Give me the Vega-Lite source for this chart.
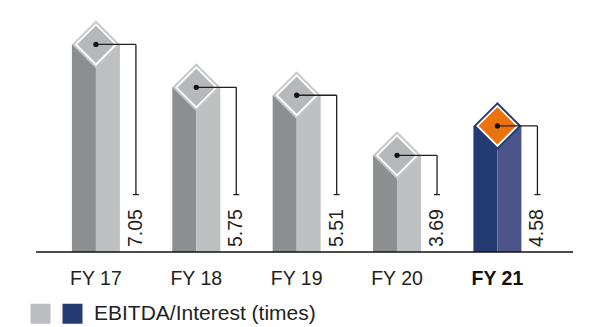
{
  "$schema": "https://vega.github.io/schema/vega-lite/v6.json",
  "width": 547,
  "height": 242,
  "autosize": "none",
  "padding": {"left": 31, "top": 10, "right": 11, "bottom": 75},
  "config": {"view": {"stroke": null}},
  "data": {"values": [
    {"fy": "FY 17", "year": 17, "value": 7.05, "group": "prior"},
    {"fy": "FY 18", "year": 18, "value": 5.75, "group": "prior"},
    {"fy": "FY 19", "year": 19, "value": 5.51, "group": "prior"},
    {"fy": "FY 20", "year": 20, "value": 3.69, "group": "prior"},
    {"fy": "FY 21", "year": 21, "value": 4.58, "group": "FY 21"}
  ]},
  "layer": [
    {
      "mark": {"type": "bar", "width": 24, "xOffset": -12},
      "encoding": {
        "x": {"field": "year", "type": "quantitative", "scale": {"domain": [16.403, 21.753], "nice": false, "zero": false}, "axis": null},
        "y": {"field": "value", "type": "quantitative", "scale": {"domain": [0.76, 8.093], "nice": false, "zero": false}, "axis": null},
        "y2": {"datum": 0.76},
        "color": {"condition": {"test": "datum.fy == 'FY 21'", "value": "#233a72"}, "value": "#8c8e90"}
      }
    },
    {
      "mark": {"type": "bar", "width": 24, "xOffset": 12},
      "encoding": {
        "x": {"field": "year", "type": "quantitative"},
        "y": {"field": "value", "type": "quantitative"},
        "y2": {"datum": 0.76},
        "color": {"condition": {"test": "datum.fy == 'FY 21'", "value": "#4b5589"}, "value": "#bebfc1"}
      }
    },
    {
      "mark": {"type": "point", "shape": "diamond", "size": 2304, "filled": true, "opacity": 1, "strokeWidth": 0},
      "encoding": {
        "x": {"field": "year", "type": "quantitative"},
        "y": {"field": "value", "type": "quantitative"},
        "color": {"condition": {"test": "datum.fy == 'FY 21'", "value": "#233a72"}, "value": "#c6c7c9"}
      }
    },
    {
      "mark": {"type": "point", "shape": "diamond", "size": 1600, "filled": true, "opacity": 1, "stroke": "white", "strokeWidth": 1.8},
      "encoding": {
        "x": {"field": "year", "type": "quantitative"},
        "y": {"field": "value", "type": "quantitative"},
        "fill": {"condition": {"test": "datum.fy == 'FY 21'", "value": "#ea730e"}, "value": "#b7b8ba"}
      }
    },
    {
      "mark": {"type": "rule", "x2Offset": 40, "strokeWidth": 1.3, "color": "#231f20"},
      "encoding": {
        "x": {"field": "year", "type": "quantitative"},
        "x2": {"field": "year"},
        "y": {"field": "value", "type": "quantitative"}
      }
    },
    {
      "mark": {"type": "rule", "xOffset": 40, "strokeWidth": 1.3, "color": "#231f20"},
      "encoding": {
        "x": {"field": "year", "type": "quantitative"},
        "y": {"field": "value", "type": "quantitative"},
        "y2": {"datum": 2.5}
      }
    },
    {
      "mark": {"type": "rule", "xOffset": 37, "x2Offset": 43, "strokeWidth": 1.3, "color": "#231f20"},
      "encoding": {
        "x": {"field": "year", "type": "quantitative"},
        "x2": {"field": "year"},
        "y": {"datum": 2.5, "type": "quantitative"}
      }
    },
    {
      "mark": {"type": "point", "shape": "circle", "size": 28, "filled": true, "opacity": 1, "color": "#111111"},
      "encoding": {
        "x": {"field": "year", "type": "quantitative"},
        "y": {"field": "value", "type": "quantitative"}
      }
    },
    {
      "mark": {"type": "text", "angle": 270, "align": "left", "baseline": "middle", "xOffset": 40, "yOffset": -5, "fontSize": 19.5, "font": "Liberation Sans", "color": "#231f20"},
      "encoding": {
        "x": {"field": "year", "type": "quantitative"},
        "y": {"datum": 0.76, "type": "quantitative"},
        "text": {"field": "value", "type": "quantitative", "format": ".2f"}
      }
    },
    {
      "transform": [{"filter": "datum.fy != 'FY 21'"}],
      "mark": {"type": "text", "align": "center", "baseline": "alphabetic", "yOffset": 33, "fontSize": 19.5, "font": "Liberation Sans", "color": "#231f20"},
      "encoding": {
        "x": {"field": "year", "type": "quantitative"},
        "y": {"datum": 0.76, "type": "quantitative"},
        "text": {"field": "fy"}
      }
    },
    {
      "transform": [{"filter": "datum.fy == 'FY 21'"}],
      "mark": {"type": "text", "align": "center", "baseline": "alphabetic", "yOffset": 33, "fontSize": 19.5, "font": "Liberation Sans", "fontWeight": "bold", "color": "#111111"},
      "encoding": {
        "x": {"field": "year", "type": "quantitative"},
        "y": {"datum": 0.76, "type": "quantitative"},
        "text": {"field": "fy"}
      }
    },
    {
      "data": {"values": [{}]},
      "mark": {"type": "rule", "strokeWidth": 1.5, "color": "#111111"},
      "encoding": {
        "x": {"datum": 16.403, "type": "quantitative"},
        "x2": {"datum": 21.753},
        "y": {"datum": 0.76, "type": "quantitative"}
      }
    },
    {
      "mark": {"type": "point", "shape": "square", "filled": true, "opacity": 0},
      "encoding": {
        "x": {"field": "year", "type": "quantitative"},
        "y": {"field": "value", "type": "quantitative"},
        "color": {
          "field": "group",
          "type": "nominal",
          "scale": {"domain": ["prior", "FY 21"], "range": ["#bcbdc0", "#233a72"]},
          "legend": {
            "orient": "none",
            "legendX": -1,
            "legendY": 293,
            "direction": "horizontal",
            "title": null,
            "padding": 0,
            "symbolType": "square",
            "symbolSize": 400,
            "symbolStrokeWidth": 0,
            "symbolOpacity": 1,
            "labelFontSize": 21,
            "labelFont": "Liberation Sans",
            "labelColor": "#231f20",
            "labelOffset": 11,
            "labelLimit": 0,
            "columnPadding": 0,
            "labelExpr": "datum.value == 'FY 21' ? 'EBITDA/Interest (times)' : ''"
          }
        }
      }
    }
  ]
}
